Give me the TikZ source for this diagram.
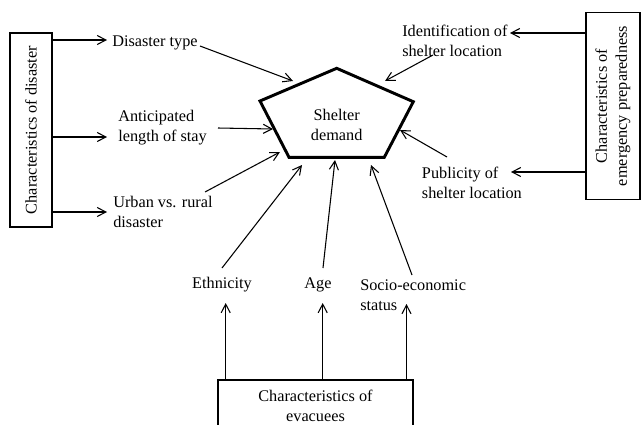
\documentclass[tikz,border=0pt]{standalone}
\usepackage{fontspec}
\setmainfont{Liberation Serif}
\usetikzlibrary{arrows.meta}
\begin{document}
\begin{tikzpicture}[x=0.75pt,y=-0.75pt,
  lbl/.style={font=\fontsize{12.2pt}{15pt}\selectfont, inner sep=0pt, align=left},
  cbox/.style={draw, line width=0.8pt, inner sep=0pt, font=\fontsize{12.2pt}{15pt}\selectfont, align=center},
  arr/.style={line width=0.8pt, -{Straight Barb[length=6.5pt,width=6.8pt]}},
  pent/.style={line width=2.2pt, line join=miter}
]
\useasboundingbox (0,0) rectangle (643,425);

% boxes
\node[cbox, rotate=90, minimum width=145.5pt, minimum height=31.5pt] (cd) at (31,130) {Characteristics of disaster};
\node[cbox, rotate=90, minimum width=140pt, minimum height=40.5pt] (ep) at (613,106) {Characteristics of\\emergency preparedness};
\node[cbox, minimum width=146.25pt, minimum height=39pt] (ev) at (315.5,406) {Characteristics of\\evacuees};

% pentagon
\coordinate (p1) at (336.7,68.3);
\coordinate (p2) at (413.3,101.7);
\coordinate (p3) at (384.3,157.3);
\coordinate (p4) at (289,157.3);
\coordinate (p5) at (260,101);
\draw[pent] (p1) -- (p2) -- (p3) -- (p4) -- (p5) -- cycle;
\node[lbl, align=center] (sd) at (336.7,125) {Shelter\\demand};

% labels
\node[lbl, anchor=west] (dt) at (112,43) {Disaster type};
\node[lbl, anchor=west] (ant) at (118,128) {Anticipated\\length of stay};
\node[lbl, anchor=west] (urb) at (113,211.5) {Urban vs. rural\\disaster};
\node[lbl, anchor=west] (idf) at (402,41) {Identification of\\shelter location};
\node[lbl, anchor=west] (pub) at (421.7,183) {Publicity of\\shelter location};
\node[lbl] (eth) at (222,285) {Ethnicity};
\node[lbl] (age) at (318,285) {Age};
\node[lbl, anchor=west] (soc) at (360,295) {Socio-economic\\status};

% arrows from left box
\coordinate (l1) at (107,40);
\coordinate (l2) at (107,137);
\coordinate (l3) at (107,212);
\draw[arr] (cd.south |- l1) -- (l1);
\draw[arr] (cd.south |- l2) -- (l2);
\draw[arr] (cd.south |- l3) -- (l3);

% arrows from right box
\coordinate (r1) at (510,33);
\coordinate (r2) at (511,172);
\draw[arr] (ep.north |- r1) -- (r1);
\draw[arr] (ep.north |- r2) -- (r2);

% arrows from bottom box
\coordinate (b1) at (225.7,303);
\coordinate (b2) at (322.7,303);
\coordinate (b3) at (406.5,304);
\draw[arr] (ev.north -| b1) -- (b1);
\draw[arr] (ev.north -| b2) -- (b2);
\draw[arr] (ev.north -| b3) -- (b3);

% arrows into pentagon
\coordinate (s1) at (200,46);   \coordinate (t1) at (293,81);
\coordinate (s2) at (218,128);  \coordinate (t2) at (273,129);
\coordinate (s3) at (205,192);  \coordinate (t3) at (280,152);
\coordinate (s4) at (433,55);   \coordinate (t4) at (385,81);
\coordinate (s5) at (447,157);  \coordinate (t5) at (400,130);
\coordinate (s6) at (222,268);  \coordinate (t6) at (302,165);
\coordinate (s7) at (323,268);  \coordinate (t7) at (335,160);
\coordinate (s8) at (412,275);  \coordinate (t8) at (371,165);
\draw[arr] (s1) -- (t1);
\draw[arr] (s2) -- (t2);
\draw[arr] (s3) -- (t3);
\draw[arr] (s4) -- (t4);
\draw[arr] (s5) -- (t5);
\draw[arr] (s6) -- (t6);
\draw[arr] (s7) -- (t7);
\draw[arr] (s8) -- (t8);
\end{tikzpicture}
\end{document}
